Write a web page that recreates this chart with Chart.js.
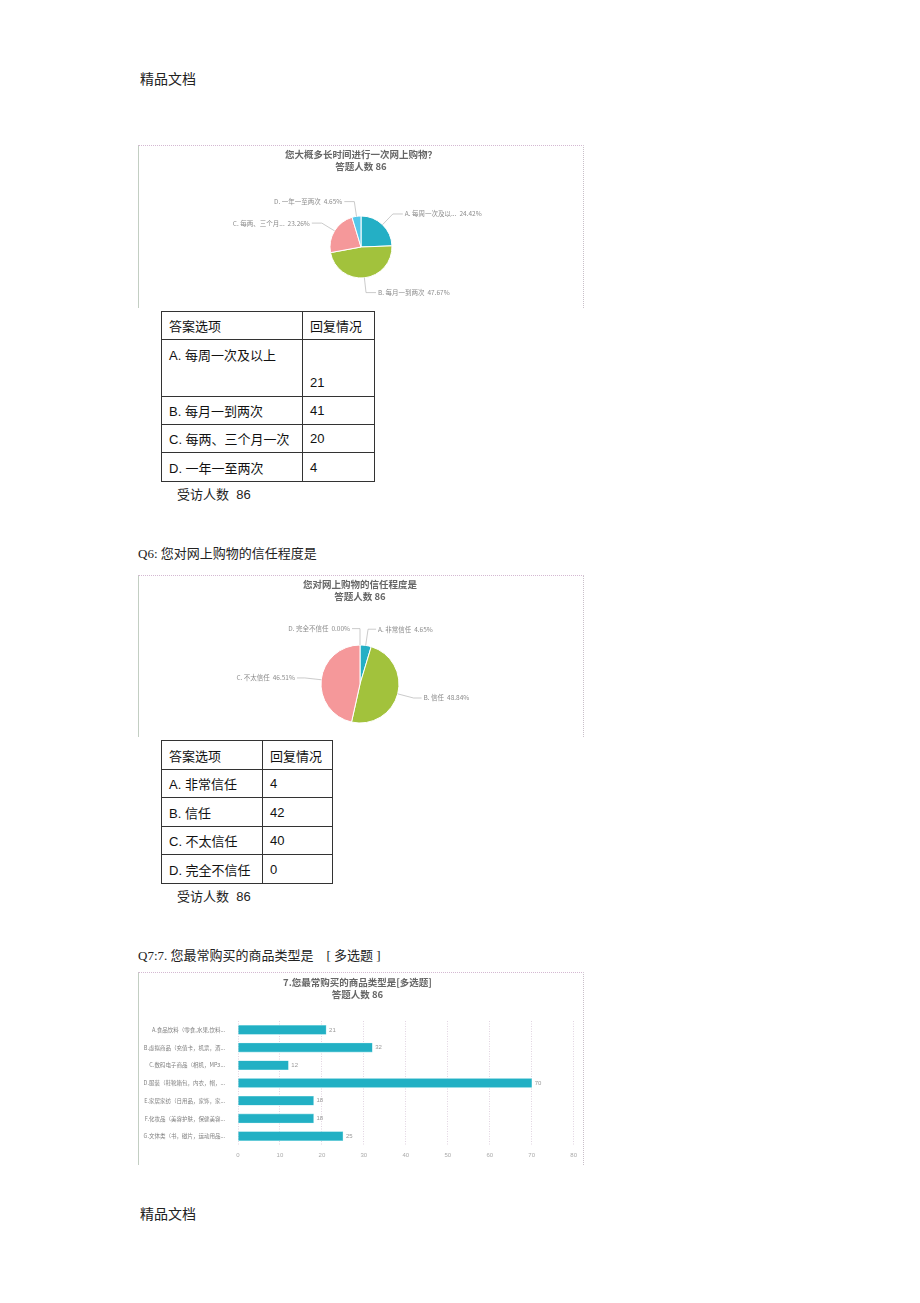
<!DOCTYPE html>
<html><head><meta charset="utf-8">
<script src="https://cdn.jsdelivr.net/npm/chart.js@4.4.1/dist/chart.umd.min.js"></script>
<style>
body{margin:0;background:#fff;width:920px;height:1303px;position:relative;overflow:hidden;font-family:"Liberation Sans","Noto Sans CJK SC",sans-serif;color:#222;}
.txt{position:absolute;white-space:pre;font-family:"Liberation Serif","Noto Sans CJK SC",serif;color:#222;}
.frame{position:absolute;border-top:1px dotted #d4b8d2;border-left:1px solid #c3cec3;border-right:1px dotted #c9c0c9;box-sizing:border-box;pointer-events:none}
.cv{position:absolute}
table{position:absolute;border-collapse:collapse;font-size:13px;font-family:"Liberation Sans","Noto Sans CJK SC",sans-serif;color:#111;}
td{border:1px solid #333;padding:0 0 0 7px;vertical-align:middle;}
</style></head><body>

<div class="txt" style="left:140px;top:68px;font-size:14px;">精品文档</div>

<div class="cv" style="left:138px;top:145px;width:446px;height:163px;"><canvas id="c1"></canvas></div>
<div class="frame" style="left:138px;top:145px;width:446px;height:163px;"></div>
<table id="t1" style="left:161px;top:311px;"></table>
<div class="txt" id="r1" style="left:177px;top:484px;font-size:13px;font-family:'Liberation Sans','Noto Sans CJK SC',sans-serif;"></div>

<div class="txt" style="left:138px;top:543px;font-size:13px;">Q6: 您对网上购物的信任程度是</div>
<div class="cv" style="left:138px;top:575px;width:446px;height:162px;"><canvas id="c2"></canvas></div>
<div class="frame" style="left:138px;top:575px;width:446px;height:162px;"></div>
<table id="t2" style="left:161px;top:740px;"></table>
<div class="txt" id="r2" style="left:177px;top:886px;font-size:13px;font-family:'Liberation Sans','Noto Sans CJK SC',sans-serif;"></div>

<div class="txt" style="left:138px;top:945px;font-size:13px;">Q7:7. 您最常购买的商品类型是    [ 多选题 ]</div>
<div class="cv" style="left:138px;top:972px;width:446px;height:193px;"><canvas id="c3"></canvas></div>
<div class="frame" style="left:138px;top:972px;width:446px;height:193px;"></div>

<div class="txt" style="left:140px;top:1203px;font-size:14px;">精品文档</div>

<script>
// ---------- DATA ----------
const respondents = 86;
const tableHeader = ['答案选项', '回复情况'];

const q5Title = ['您大概多长时间进行一次网上购物？', '答题人数 86'];
const q5Labels = ['A. 每周一次及以上', 'B. 每月一到两次', 'C. 每两、三个月一次', 'D. 一年一至两次'];
const q5Short = ['A. 每周一次及以...', 'B. 每月一到两次', 'C. 每两、三个月...', 'D. 一年一至两次'];
const q5Counts = [21, 41, 20, 4];

const q6Title = ['您对网上购物的信任程度是', '答题人数 86'];
const q6Labels = ['A. 非常信任', 'B. 信任', 'C. 不太信任', 'D. 完全不信任'];
const q6Counts = [4, 42, 40, 0];

const q7Title = ['7.您最常购买的商品类型是[多选题]', '答题人数 86'];
const q7Labels = [
  'A.食品饮料（零食,水果,饮料...',
  'B.虚拟商品（充值卡，机票，酒...',
  'C.数码电子商品（相机，MP3...',
  'D.服装（鞋靴箱包，内衣，帽，...',
  'E.家居家纺（日用品，家饰，家...',
  'F.化妆品（美容护肤，保健美容...',
  'G.文体类（书，磁片，运动用品...'
];
const q7Counts = [21, 32, 12, 70, 18, 18, 25];
const q7AxisMin = 0, q7AxisMax = 80, q7AxisStep = 10;

const pieColors = ['#24afc5', '#a2c23c', '#f5989a', '#55c7ea'];
const barColor = '#22b0c4';

// ---------- TABLES ----------
function buildTable(id, labels, counts, firstRowTall, c1w, c2w, rowH) {
  const t = document.getElementById(id);
  let html = `<tr style="height:${rowH[0]}px"><td style="width:${c1w}px">${tableHeader[0]}</td><td style="width:${c2w}px">${tableHeader[1]}</td></tr>`;
  labels.forEach((l, i) => {
    const h = rowH[i + 1];
    if (i === 0 && firstRowTall) {
      html += `<tr style="height:${h}px"><td style="vertical-align:top;padding-top:5px">${l}</td><td style="vertical-align:bottom;padding-bottom:6px">${counts[i]}</td></tr>`;
    } else {
      html += `<tr style="height:${h}px"><td>${l}</td><td>${counts[i]}</td></tr>`;
    }
  });
  t.innerHTML = html;
}
buildTable('t1', q5Labels, q5Counts, true, 133, 64, [28, 57, 28, 28, 29]);
buildTable('t2', q6Labels, q6Counts, false, 93, 62, [29, 28, 29, 28, 29]);
document.getElementById('r1').textContent = '受访人数  ' + respondents;
document.getElementById('r2').textContent = '受访人数  ' + respondents;

// ---------- CHARTS ----------
const cjk = '"Noto Sans CJK SC", "Liberation Sans", sans-serif';

function pieLabelPlugin(labels, factor, tail) {
  return {
    id: 'pieLabels',
    afterDatasetsDraw(chart) {
      const ctx = chart.ctx;
      const meta = chart.getDatasetMeta(0);
      const data = chart.data.datasets[0].data;
      const total = data.reduce((a, b) => a + b, 0);
      ctx.save();
      ctx.font = '6.5px ' + cjk;
      ctx.textBaseline = 'middle';
      meta.data.forEach((arc, i) => {
        const p = arc.getProps(['x', 'y', 'startAngle', 'endAngle', 'outerRadius'], true);
        const mid = (p.startAngle + p.endAngle) / 2;
        const c = Math.cos(mid), s = Math.sin(mid);
        const x0 = p.x + c * p.outerRadius, y0 = p.y + s * p.outerRadius;
        const x1 = p.x + c * p.outerRadius * factor, y1 = p.y + s * p.outerRadius * factor;
        const right = c > 1e-6;
        const x2 = x1 + (right ? 1 : -1) * tail;
        ctx.strokeStyle = '#b5b5b5';
        ctx.lineWidth = 0.7;
        ctx.beginPath(); ctx.moveTo(x0, y0); ctx.lineTo(x1, y1); ctx.lineTo(x2, y1); ctx.stroke();
        const txt = labels[i] + '  ' + (data[i] / total * 100).toFixed(2) + '%';
        ctx.fillStyle = '#8c8c8c';
        ctx.textAlign = right ? 'left' : 'right';
        ctx.fillText(txt, x2 + (right ? 2 : -2), y1);
      });
      ctx.restore();
    }
  };
}

function makePie(id, counts, labels, titleText, radius, pad, titleBottom, factor, tail) {
  new Chart(document.getElementById(id), {
    type: 'pie',
    data: { labels: labels, datasets: [{ data: counts, backgroundColor: pieColors, borderColor: '#ffffff', borderWidth: 1, radius: radius }] },
    options: {
      responsive: true, maintainAspectRatio: false, animation: false,
      layout: { padding: pad },
      plugins: {
        legend: { display: false }, tooltip: { enabled: false },
        title: { display: true, text: titleText, color: '#666', font: { size: 9.5, weight: 'bold', family: cjk }, padding: { top: 4, bottom: titleBottom } }
      }
    },
    plugins: [pieLabelPlugin(labels, factor, tail)]
  });
}

makePie('c1', q5Counts, q5Short, q5Title, 31, { top: 0, left: 0, right: 0, bottom: 0 }, 14.2, 1.48, 10);
makePie('c2', q6Counts, q6Labels, q6Title, 39, { top: 0, left: 0, right: 2, bottom: 0 }, 29.2, 1.42, 8);

const valueLabelPlugin = {
  id: 'valueLabels',
  afterDatasetsDraw(chart) {
    const ctx = chart.ctx;
    const meta = chart.getDatasetMeta(0);
    const data = chart.data.datasets[0].data;
    ctx.save();
    ctx.font = '6px "Liberation Sans", sans-serif';
    ctx.fillStyle = '#999';
    ctx.textBaseline = 'middle';
    ctx.textAlign = 'left';
    meta.data.forEach((bar, i) => {
      ctx.fillText(String(data[i]), bar.x + 3, bar.y);
    });
    ctx.restore();
  }
};

new Chart(document.getElementById('c3'), {
  type: 'bar',
  data: { labels: q7Labels, datasets: [{ data: q7Counts, backgroundColor: barColor, borderColor: '#7dd4df', borderWidth: 0.6, barThickness: 9 }] },
  options: {
    indexAxis: 'y', responsive: true, maintainAspectRatio: false, animation: false,
    layout: { padding: { left: 0, right: 7, top: 0, bottom: 0 } },
    plugins: {
      legend: { display: false }, tooltip: { enabled: false },
      title: { display: true, text: q7Title, color: '#666', font: { size: 9.5, weight: 'bold', family: cjk }, padding: { top: 5, bottom: 21.2 } }
    },
    scales: {
      x: {
        min: q7AxisMin, max: q7AxisMax,
        ticks: { stepSize: q7AxisStep, color: '#aaa', font: { size: 6 }, padding: 7 },
        grid: { color: '#d9c9d9', drawTicks: false, lineWidth: 0.8 },
        border: { display: false, dash: [1, 1.5] },
        afterFit(s) { s.height = 20; }
      },
      y: {
        ticks: { color: '#808080', font: { size: 5.5, family: cjk }, padding: 5 },
        grid: { display: false },
        border: { display: false },
        afterFit(s) { s.width = 100; }
      }
    }
  },
  plugins: [valueLabelPlugin]
});
</script>
</body></html>
